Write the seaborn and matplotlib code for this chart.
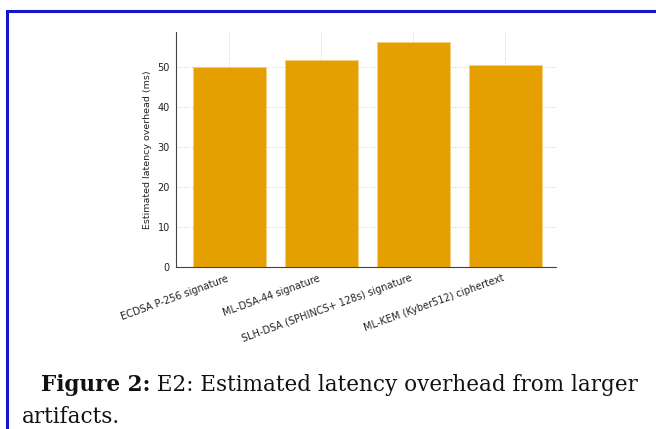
import matplotlib
matplotlib.use("Agg")
import matplotlib.pyplot as plt
import seaborn as sns
import pandas as pd
from matplotlib.patches import Rectangle

categories = ["ECDSA P-256 signature", "ML-DSA-44 signature",
              "SLH-DSA (SPHINCS+ 128s) signature", "ML-KEM (Kyber512) ciphertext"]
latency_ms = [50.0, 51.8, 56.2, 50.5]
yticks = [0, 10, 20, 30, 40, 50]

df = pd.DataFrame({"artifact": categories, "latency": latency_ms})

sns.set_theme(style="white")
plt.rcParams['font.family'] = ['DejaVu Sans']

fig = plt.figure(figsize=(6.56, 4.29), dpi=100)
ax = fig.add_axes([176/656, (429-267)/429, (556-176)/656, (267-32)/429])

sns.barplot(data=df, x="artifact", y="latency", color="#E69F00", saturation=1,
            width=0.8, ax=ax, edgecolor="#f3cf80", linewidth=0.6)
ax.set_xlim(-0.58, 3.55)
ax.set_ylim(0, 58.8)
ax.set_yticks(yticks)
ax.grid(True, linestyle=":", color="#cccccc", linewidth=0.7)
ax.set_axisbelow(True)
ax.set_xlabel("")
ax.set_ylabel("Estimated latency overhead (ms)", fontsize=6.8, color="#222222")
ax.tick_params(axis="both", labelsize=7, colors="#222222", length=2.5, width=0.6, pad=2)
ax.set_xticks(range(len(categories)))
ax.set_xticklabels(categories, rotation=20, ha="right")
for s in ["top", "right"]:
    ax.spines[s].set_visible(False)
for s in ["left", "bottom"]:
    ax.spines[s].set_color("#444444")
    ax.spines[s].set_linewidth(0.8)

# page border
fig.patches.append(Rectangle((7/656, -0.1), 1.2, (429-11)/429 + 0.1, transform=fig.transFigure,
                             fill=False, edgecolor="#1414c8", linewidth=2.2))

# caption
cap_font = "DejaVu Serif"
fs = 15.5
t1 = fig.text(41/656, 1 - 391/429, "Figure 2:", fontsize=fs, fontweight="bold",
              family=cap_font, va="baseline", ha="left", color="#111111")
ax.annotate(" E2: Estimated latency overhead from larger", xy=(1, 0), xycoords=t1,
            fontsize=fs, family=cap_font, va="bottom", ha="left", color="#111111",
            annotation_clip=False)
fig.text(22/656, 1 - 423/429, "artifacts.", fontsize=fs,
         family=cap_font, va="baseline", ha="left", color="#111111")

fig.savefig("out.png", dpi=100)
